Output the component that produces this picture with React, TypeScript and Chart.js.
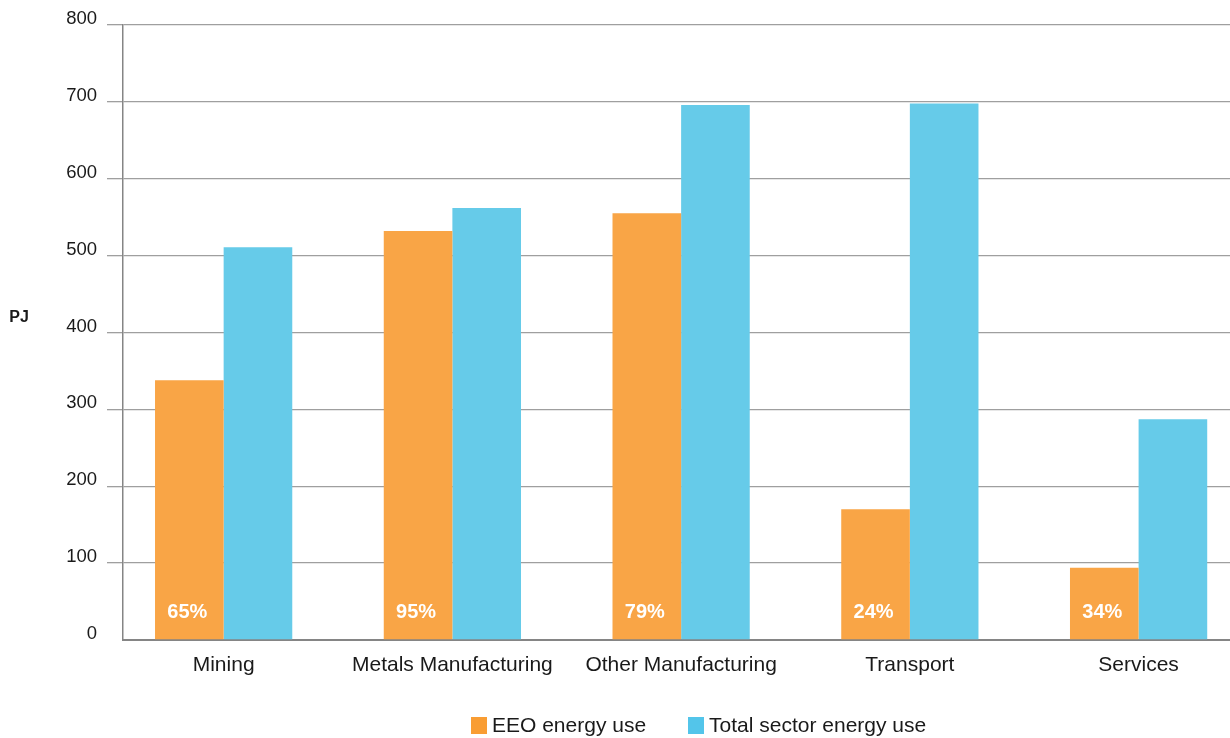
import { useEffect, useRef } from 'react';
import { Chart, registerables } from 'chart.js';

Chart.register(...registerables);

const categories = ['Mining', 'Metals Manufacturing', 'Other Manufacturing', 'Transport', 'Services'];
const eeoValues = [338, 532, 555, 170, 94];
const totalValues = [511, 562, 696, 698, 287];
const shareLabels = ['65%', '95%', '79%', '24%', '34%'];
const seriesNames = ['EEO energy use', 'Total sector energy use'];
const yAxisTitle = 'PJ';

const FONT = '"Liberation Sans", Arial, Helvetica, sans-serif';
const ORANGE = '#F9A546';
const BLUE = '#66CBE9';
const LEGEND_ORANGE = '#F99D33';
const LEGEND_BLUE = '#53C5EA';
const TEXT = '#1a1a1a';

export default function App() {
  const canvasRef = useRef<HTMLCanvasElement | null>(null);

  useEffect(() => {
    const canvas = canvasRef.current;
    if (!canvas) return;

    const shareLabelPlugin = {
      id: 'shareLabels',
      afterDatasetsDraw(chart: any) {
        const meta = chart.getDatasetMeta(0);
        const ctx = chart.ctx;
        ctx.save();
        ctx.fillStyle = '#ffffff';
        ctx.font = `bold 20px ${FONT}`;
        ctx.textAlign = 'center';
        ctx.textBaseline = 'middle';
        meta.data.forEach((bar: any, i: number) => {
          ctx.fillText(shareLabels[i], bar.x - 2, chart.chartArea.bottom - 28);
        });
        ctx.restore();
      },
    };

    const yTitlePlugin = {
      id: 'yTitle',
      afterDraw(chart: any) {
        const ctx = chart.ctx;
        ctx.save();
        ctx.fillStyle = TEXT;
        ctx.font = `bold 16px ${FONT}`;
        ctx.textAlign = 'center';
        ctx.textBaseline = 'middle';
        const { top, bottom } = chart.chartArea;
        ctx.fillText(yAxisTitle, 19, (top + bottom) / 2 - 15);
        ctx.restore();
      },
    };

    const chart = new Chart(canvas, {
      type: 'bar',
      data: {
        datasets: [
          {
            label: seriesNames[0],
            data: eeoValues.map((v, i) => ({ x: i, y: v })),
            backgroundColor: ORANGE,
            borderWidth: 0,
            categoryPercentage: 0.6,
            barPercentage: 1,
          },
          {
            label: seriesNames[1],
            data: totalValues.map((v, i) => ({ x: i, y: v })),
            backgroundColor: BLUE,
            borderWidth: 0,
            categoryPercentage: 0.6,
            barPercentage: 1,
          },
        ],
      },
      options: {
        responsive: false,
        animation: false,
        devicePixelRatio: 1,
        layout: { padding: { top: 25, right: 0, left: 0, bottom: 48 } },
        plugins: {
          legend: { display: false },
          tooltip: { enabled: false },
        },
        scales: {
          x: {
            type: 'linear',
            min: -0.44,
            max: 4.3996,
            offset: false,
            grid: { display: true, drawOnChartArea: false, drawTicks: false, offset: false },
            border: { display: true, color: '#858585', width: 2 },
            afterBuildTicks: (s: any) => {
              s.ticks = categories.map((_, i) => ({ value: i }));
            },
            afterFit: (s: any) => {
              s.height = 50;
            },
            ticks: {
              autoSkip: false,
              maxRotation: 0,
              minRotation: 0,
              padding: 13,
              color: TEXT,
              font: { family: FONT, size: 21 },
              callback: (v: any) => categories[Math.round(Number(v))] ?? '',
            },
          },
          y: {
            min: 0,
            max: 800,
            grid: {
              color: (c: any) => (c.tick && c.tick.value === 0 ? 'rgba(0,0,0,0)' : '#9f9f9f'),
              lineWidth: 1.3,
              tickLength: 16,
              drawTicks: true,
            },
            border: { display: true, color: '#858585', width: 1.5 },
            afterFit: (s: any) => {
              s.width = 123;
            },
            ticks: {
              stepSize: 100,
              padding: 10,
              labelOffset: -6,
              color: TEXT,
              font: { family: FONT, size: 18.5 },
            },
          },
        },
      } as any,
      plugins: [shareLabelPlugin, yTitlePlugin],
    });

    return () => chart.destroy();
  }, []);

  const legendItems = [
    { name: seriesNames[0], color: LEGEND_ORANGE },
    { name: seriesNames[1], color: LEGEND_BLUE },
  ];

  return (
    <div style={{ position: 'absolute', left: 0, top: 0, width: 1230, height: 738, background: '#fff' }}>
      <canvas ref={canvasRef} width={1230} height={738} style={{ display: 'block' }} />
      <div
        style={{
          position: 'absolute',
          left: 471,
          top: 713,
          display: 'flex',
          alignItems: 'center',
          fontFamily: FONT,
          fontSize: 21,
          color: TEXT,
          lineHeight: '24px',
          whiteSpace: 'nowrap',
        }}
      >
        {legendItems.map((item, i) => (
          <div key={item.name} style={{ display: 'flex', alignItems: 'center', marginLeft: i === 0 ? 0 : 42 }}>
            <span style={{ display: 'inline-block', width: 16, height: 17, background: item.color, marginRight: 5 }} />
            <span>{item.name}</span>
          </div>
        ))}
      </div>
    </div>
  );
}
